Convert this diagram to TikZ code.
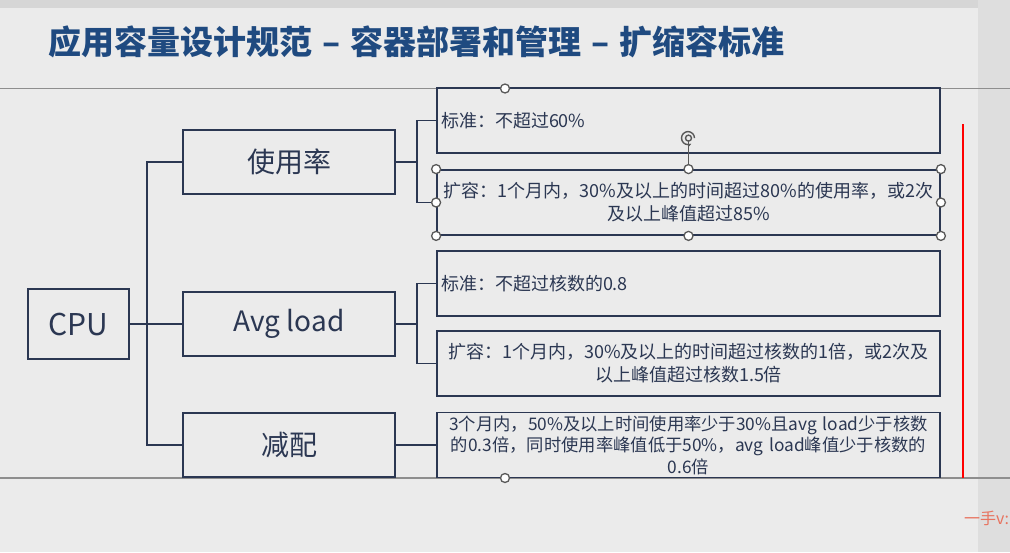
\documentclass[tikz,border=0pt]{standalone}
\usepackage{fontspec}
\setmainfont{Noto Sans CJK SC}
\usepackage{xcolor}
\usetikzlibrary{arrows.meta,positioning,calc}
\definecolor{slidebg}{HTML}{EBEBEB}
\definecolor{navy}{HTML}{2B3752}
\definecolor{titleblue}{HTML}{1F4A80}
\definecolor{guide}{HTML}{8E8E8E}
\definecolor{mark}{HTML}{E8735F}

\begin{document}
\begin{tikzpicture}[x=1pt, y=-1pt,
    box/.style={rectangle, draw=navy, line width=1.8pt, inner sep=0pt, text=navy},
    keybox/.style={box, minimum width=212pt, minimum height=64pt, font=\fontsize{28}{30}\selectfont},
    rulebox/.style={box, minimum width=503pt, minimum height=65pt, text width=495pt, font=\fontsize{18}{23}\selectfont},
    link/.style={draw=navy, line width=1.6pt},
    grip/.style={circle, draw=black!65, fill=white, line width=1.3pt, inner sep=0pt, minimum size=9pt}
]
    \useasboundingbox (0,0) rectangle (1010,552);
    % Slide background
    \fill[slidebg] (0,0) rectangle (1010,552);
    \fill[black!16] (0,0) rectangle (1010,8);
    \fill[black!13] (978,0) rectangle (1010,552);
    \draw[guide, line width=1.2pt] (0,88.5) -- (1010,88.5);
    \draw[guide, line width=1.2pt] (0,478) -- (1010,478);

    % Title
    \node[anchor=west, text=titleblue, font=\fontsize{33}{36}\selectfont\bfseries] (title) at (45,42)
        {应用容量设计规范\hspace{10pt}–\hspace{10pt}容器部署和管理\hspace{10pt}–\hspace{10pt}扩缩容标准};

    % Tree
    \node[keybox, minimum width=101pt, minimum height=70pt, font=\fontsize{30}{32}\selectfont] (cpu) at (78.5,324) {CPU};
    \node[keybox] (use) at (289,162) {使用率};
    \node[keybox] (avg) at (289,324) {Avg load};
    \node[keybox] (cut) at (289,445) {减配};

    % Rules
    \node[rulebox, align=left] (r1) at (688.5,120.5) {标准：不超过60\%};
    \node[rulebox, align=center] (r2) at (688.5,202.5) {扩容：1个月内，30\%及以上的时间超过80\%的使用率，或2次\\及以上峰值超过85\%};
    \node[rulebox, align=left] (r3) at (688.5,283.5) {标准：不超过核数的0.8};
    \node[rulebox, align=center] (r4) at (688.5,363.5) {扩容：1个月内，30\%及以上的时间超过核数的1倍，或2次及\\以上峰值超过核数1.5倍};
    \node[rulebox, align=center, text width=501pt, font=\fontsize{17.3}{21.5}\selectfont] (r5) at (688.5,445)
        {3个月内，50\%及以上时间使用率少于30\%且avg load少于核数\\的0.3倍，同时使用率峰值低于50\%，avg load峰值少于核数的\\0.6倍};

    % Connectors
    \draw[link] (cpu.east) -- (avg.west);
    \draw[link] (use.west) -- ++(-35,0) |- (cut.west);
    \draw[link] (use.east) -- ++(21,0) coordinate (fork1);
    \draw[link] (r1.west) -| (fork1) |- (r2.west);
    \draw[link] (avg.east) -- ++(21,0) coordinate (fork2);
    \draw[link] (r3.west) -| (fork2) |- (r4.west);
    \draw[link] (cut.east) -- (r5.west);

    % Selection handles
    \draw[black!65, line width=1.2pt] (r2.north) -- ++(0,-28) coordinate (spin);
    \draw[black!65, line width=1.4pt] ($(spin)+(0,-3)$) circle (3pt);
    \draw[black!65, line width=1.4pt, -{Stealth[length=4pt]}] ($(spin)+(6,-3)$) arc (0:300:6.5pt and 6.5pt);
    \foreach \a in {north west,north,north east,west,east,south west,south,south east}
        \node[grip] (h-\a) at (r2.\a) {};
    \node[grip] (htop) at (505,88.5) {};
    \node[grip] (hbot) at (505,478) {};

    % Marks
    \draw[red, line width=1.5pt] (963,124) -- (963,478);
    \node[anchor=west, text=mark, font=\fontsize{16}{18}\selectfont, inner sep=0pt] (tag) at (964,518) {一手v:};
\end{tikzpicture}
\end{document}
